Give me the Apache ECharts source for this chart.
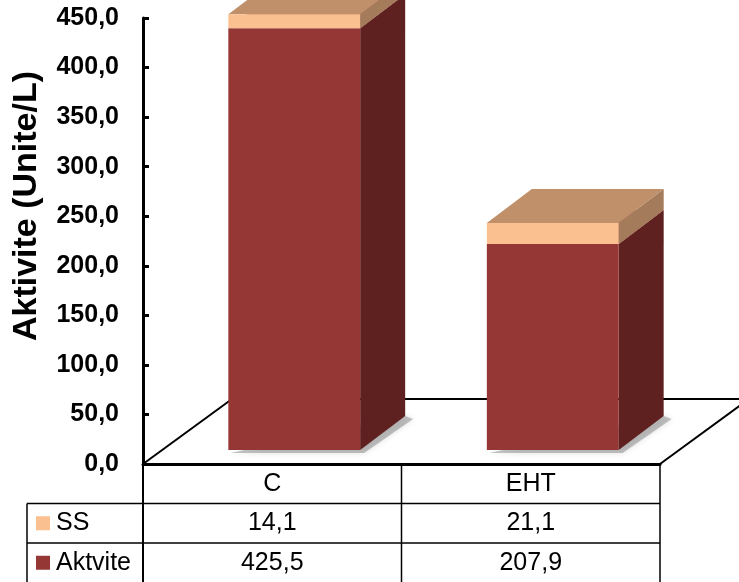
<!DOCTYPE html>
<html>
<head>
<meta charset="utf-8">
<title>Aktivite</title>
<script src="https://cdn.jsdelivr.net/npm/echarts@6/dist/echarts.min.js"></script>
<style>
  html, body { margin: 0; padding: 0; background: #ffffff; }
  #chart { width: 739px; height: 582px; }
</style>
</head>
<body>
<div id="chart"></div>
<script>
// Groups and measured values
const categories = ['C', 'EHT'];
const ssValues = [14.1, 21.1];
const aktviteValues = [425.5, 207.9];
const seriesNames = ['SS', 'Aktvite'];
const yAxisTitle = 'Aktivite (Unite/L)';
const yMin = 0;
const yMax = 450;
const yStep = 50;

// Plot layout
const GRID_LEFT = 143;
const GRID_TOP = 18;
const GRID_RIGHT_X = 660;
const AXIS_Y = 464;
const ROW_H = 39.5;
const TABLE_LEFT = 27;

// 3D projection offsets
const BAR_SHIFT = [22, -14];   // bar front plane relative to the axis plane
const BAR_DEPTH = [45, -34];   // bar depth
const FLOOR_DEPTH = [89, -65]; // floor depth
const BAR_RATIO = 0.51;

const palette = {
  Aktvite: { front: '#953735', side: '#5f2120', top: '#b0605e' },
  SS: { front: '#fac090', side: '#a47b5b', top: '#bf9069' }
};

const FONT = 'Liberation Sans, Arial, sans-serif';
const fmt = v => v.toFixed(1).replace('.', ',');

function boxRenderer(colors, withShadow) {
  return function (params, api) {
    const cat = api.value(0);
    const base = api.value(1);
    const top = api.value(2);
    const pb = api.coord([cat, base]);
    const pt = api.coord([cat, top]);
    const band = api.size([1, 0])[0];
    const w = band * BAR_RATIO;
    const x0 = pb[0] + BAR_SHIFT[0] - w / 2;
    const x1 = x0 + w;
    const yb = pb[1] + BAR_SHIFT[1];
    const yt = pt[1] + BAR_SHIFT[1];
    const dx = BAR_DEPTH[0], dy = BAR_DEPTH[1];
    const children = [];
    if (withShadow) {
      children.push({
        type: 'polygon',
        shape: { points: [[x0 + 2, yb + 3], [x1 + 4, yb + 3], [x1 + dx + 8, yb + dy + 3], [x1 + dx, yb + dy]] },
        style: { fill: 'rgba(90,90,90,0.35)', shadowBlur: 6, shadowColor: 'rgba(0,0,0,0.35)' },
        silent: true
      });
    }
    children.push({
      type: 'polygon',
      shape: { points: [[x1, yb], [x1 + dx, yb + dy], [x1 + dx, yt + dy], [x1, yt]] },
      style: { fill: colors.side }
    });
    children.push({
      type: 'polygon',
      shape: { points: [[x0, yt], [x1, yt], [x1 + dx, yt + dy], [x0 + dx, yt + dy]] },
      style: { fill: colors.top }
    });
    children.push({
      type: 'rect',
      shape: { x: x0, y: yt, width: w, height: yb - yt },
      style: { fill: colors.front }
    });
    return { type: 'group', children: children };
  };
}

function floorRenderer(params, api) {
  const cs = params.coordSys;
  const fx = FLOOR_DEPTH[0], fy = FLOOR_DEPTH[1];
  const yb = cs.y + cs.height;
  const xl = cs.x, xr = cs.x + cs.width;
  const line = (a, b, w) => ({
    type: 'line',
    shape: { x1: a[0], y1: a[1], x2: b[0], y2: b[1] },
    style: { stroke: '#000', lineWidth: w },
    silent: true
  });
  return {
    type: 'group',
    children: [
      line([xl, yb], [xl + fx, yb + fy], 2),
      line([xl + fx, yb + fy], [xr + fx, yb + fy], 2),
      line([xr, yb], [xr + fx, yb + fy], 2)
    ]
  };
}

const aktviteData = categories.map((c, i) => [i, 0, aktviteValues[i]]);
const ssData = categories.map((c, i) => [i, aktviteValues[i], aktviteValues[i] + ssValues[i]]);

// Data table below the plot
const tableGraphics = [];
const colEdges = [GRID_LEFT, (GRID_LEFT + GRID_RIGHT_X) / 2, GRID_RIGHT_X];
const rowTop = [AXIS_Y, AXIS_Y + ROW_H, AXIS_Y + 2 * ROW_H];
const H = 582;
function hline(x1, x2, y, w) {
  tableGraphics.push({ type: 'line', shape: { x1: x1, y1: y, x2: x2, y2: y }, style: { stroke: '#000', lineWidth: w || 1.5 }, silent: true });
}
function vline(x, y1, y2, w) {
  tableGraphics.push({ type: 'line', shape: { x1: x, y1: y1, x2: x, y2: y2 }, style: { stroke: '#000', lineWidth: w || 1.5 }, silent: true });
}
hline(TABLE_LEFT, GRID_RIGHT_X, rowTop[1]);
hline(TABLE_LEFT, GRID_RIGHT_X, rowTop[2]);
vline(TABLE_LEFT, rowTop[1], H);
vline(GRID_LEFT, AXIS_Y, H, 2);
vline(colEdges[1], AXIS_Y, H);
vline(colEdges[2], AXIS_Y, H);

const rowValues = [ssValues, aktviteValues];
seriesNames.forEach((name, r) => {
  const cy = rowTop[1 + r] + ROW_H / 2;
  tableGraphics.push({
    type: 'rect',
    shape: { x: 36, y: cy - 7, width: 14, height: 14 },
    style: { fill: palette[name].front }
  });
  tableGraphics.push({
    type: 'text',
    style: { text: name, x: 56, y: cy, verticalAlign: 'middle', align: 'left', fontFamily: FONT, fontSize: 25, fill: '#000' }
  });
  categories.forEach((c, i) => {
    tableGraphics.push({
      type: 'text',
      style: { text: fmt(rowValues[r][i]), x: (colEdges[i] + colEdges[i + 1]) / 2, y: cy, align: 'center', verticalAlign: 'middle', fontFamily: FONT, fontSize: 25, fill: '#000' }
    });
  });
});

// Axis title
tableGraphics.push({
  type: 'text',
  rotation: Math.PI / 2,
  x: 27,
  y: 206,
  style: { text: yAxisTitle, align: 'center', verticalAlign: 'middle', fontFamily: FONT, fontWeight: 'bold', fontSize: 34, fill: '#000' }
});

const chart = echarts.init(document.getElementById('chart'), null, { renderer: 'canvas' });
chart.setOption({
  animation: false,
  backgroundColor: '#ffffff',
  grid: { left: GRID_LEFT, top: GRID_TOP, right: 739 - GRID_RIGHT_X, bottom: 582 - AXIS_Y, containLabel: false },
  xAxis: {
    type: 'category',
    data: categories,
    axisLine: { show: true, lineStyle: { color: '#000', width: 3 } },
    axisTick: { show: false },
    axisLabel: { color: '#000', fontSize: 25, fontFamily: FONT, margin: 8 },
    splitLine: { show: false },
    z: 5
  },
  yAxis: {
    type: 'value',
    min: yMin,
    max: yMax,
    interval: yStep,
    axisLine: { show: true, lineStyle: { color: '#000', width: 3 } },
    axisTick: { show: true, inside: true, length: 6, lineStyle: { color: '#000', width: 3 } },
    axisLabel: { color: '#000', fontSize: 25, fontWeight: 'bold', fontFamily: FONT, margin: 24, formatter: fmt },
    splitLine: { show: false },
    z: 5
  },
  series: [
    {
      type: 'custom',
      name: 'floor',
      renderItem: floorRenderer,
      data: [[0, 0]],
      encode: { x: 0, y: 1 },
      z: 1,
      silent: true
    },
    {
      type: 'custom',
      name: seriesNames[1],
      renderItem: boxRenderer(palette.Aktvite, true),
      data: aktviteData,
      encode: { x: 0, y: [1, 2] },
      z: 2
    },
    {
      type: 'custom',
      name: seriesNames[0],
      renderItem: boxRenderer(palette.SS, false),
      data: ssData,
      encode: { x: 0, y: [1, 2] },
      z: 3
    }
  ],
  graphic: tableGraphics
});
</script>
</body>
</html>
